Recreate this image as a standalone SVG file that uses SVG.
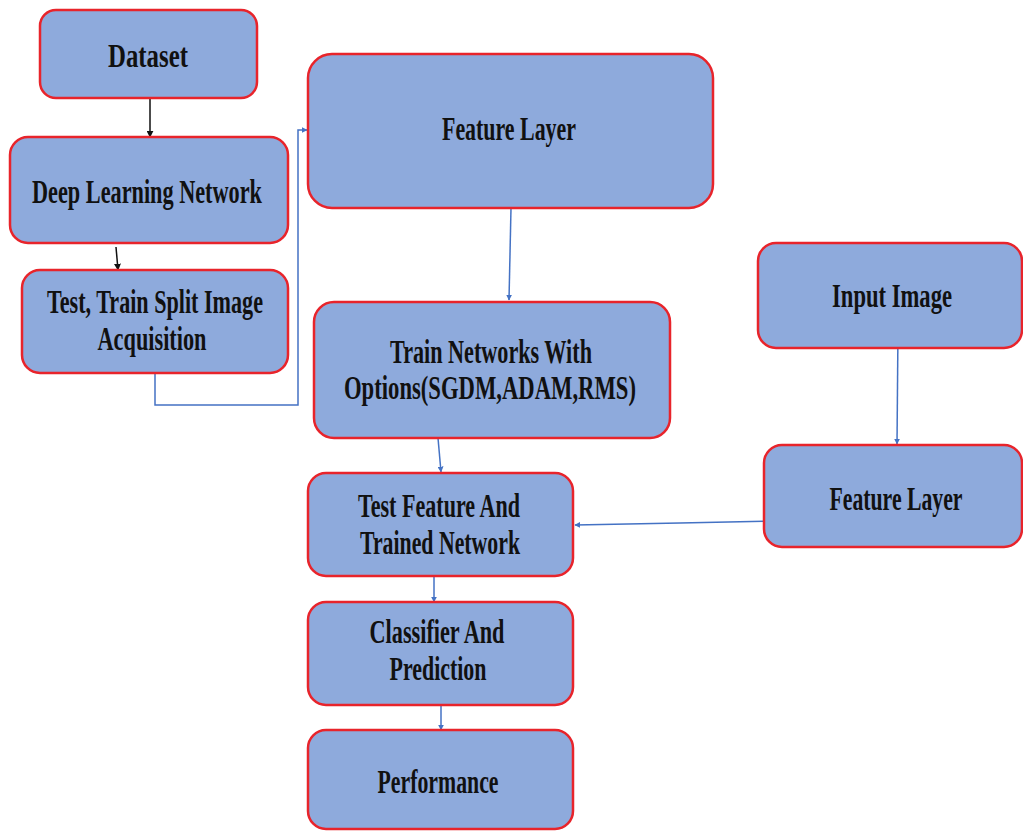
<svg xmlns="http://www.w3.org/2000/svg" width="1023" height="831" viewBox="0 0 1023 831">
<defs>
<style>
.box{fill:#8eaadc;stroke:#e8242b;stroke-width:2.5}
.t{font-family:"Liberation Serif","Times New Roman",serif;font-weight:bold;font-size:34px;fill:#111}
.cb{fill:none;stroke:#4472c4;stroke-width:1.5}
.ck{fill:none;stroke:#111;stroke-width:1.5}
</style>
<marker id="ab" viewBox="0 0 10 10" refX="9" refY="5" markerWidth="6" markerHeight="6" orient="auto" markerUnits="userSpaceOnUse"><path d="M0,0 L10,5 L0,10 z" fill="#4472c4"/></marker>
<marker id="ak" viewBox="0 0 10 10" refX="9" refY="5" markerWidth="7" markerHeight="7" orient="auto" markerUnits="userSpaceOnUse"><path d="M0,0 L10,5 L0,10 z" fill="#111"/></marker>
</defs>
<rect width="1023" height="831" fill="#fff"/>
<g id="connectors">
<line class="ck" x1="150" y1="98" x2="150" y2="137" marker-end="url(#ak)"/>
<line class="ck" x1="116" y1="247" x2="118" y2="270" marker-end="url(#ak)"/>
<polyline class="cb" points="155,373 155,405 298,405 298,130 307,130" marker-end="url(#ab)"/>
<line class="cb" x1="511" y1="208" x2="509" y2="300" marker-end="url(#ab)"/>
<line class="cb" x1="438" y1="438" x2="441" y2="472" marker-end="url(#ab)"/>
<line class="cb" x1="898" y1="328" x2="897" y2="444" marker-end="url(#ab)"/>
<polyline class="cb" points="770,521 680,523 575,525" marker-end="url(#ab)"/>
<line class="cb" x1="434" y1="576" x2="434" y2="602" marker-end="url(#ab)"/>
<line class="cb" x1="441" y1="705" x2="441" y2="730" marker-end="url(#ab)"/>
</g>
<g id="dataset"><rect class="box" x="40" y="10" width="217" height="88" rx="16"/><text class="t" x="148" y="67" text-anchor="middle" textLength="80" lengthAdjust="spacingAndGlyphs">Dataset</text></g>
<g id="dln"><rect class="box" x="10" y="137" width="278" height="106" rx="18"/><text class="t" x="147" y="203" text-anchor="middle" textLength="230" lengthAdjust="spacingAndGlyphs">Deep Learning Network</text></g>
<g id="split"><rect class="box" x="22" y="270" width="266" height="103" rx="18"/><text class="t" x="155" y="313" text-anchor="middle" textLength="216" lengthAdjust="spacingAndGlyphs">Test, Train Split Image</text><text class="t" x="152" y="350" text-anchor="middle" textLength="109" lengthAdjust="spacingAndGlyphs">Acquisition</text></g>
<g id="feature1"><rect class="box" x="308" y="54" width="405" height="154" rx="24"/><text class="t" x="509" y="140" text-anchor="middle" textLength="134" lengthAdjust="spacingAndGlyphs">Feature Layer</text></g>
<g id="train"><rect class="box" x="314" y="302" width="356" height="136" rx="20"/><text class="t" x="491" y="363" text-anchor="middle" textLength="202" lengthAdjust="spacingAndGlyphs">Train Networks With</text><text class="t" x="490" y="399" text-anchor="middle" textLength="292" lengthAdjust="spacingAndGlyphs">Options(SGDM,ADAM,RMS)</text></g>
<g id="input"><rect class="box" x="758" y="243" width="264" height="105" rx="18"/><text class="t" x="892" y="307" text-anchor="middle" textLength="120" lengthAdjust="spacingAndGlyphs">Input Image</text></g>
<g id="feature2"><rect class="box" x="764" y="445" width="258" height="102" rx="18"/><text class="t" x="896" y="510" text-anchor="middle" textLength="133" lengthAdjust="spacingAndGlyphs">Feature Layer</text></g>
<g id="testfeature"><rect class="box" x="308" y="473" width="265" height="103" rx="18"/><text class="t" x="439" y="517" text-anchor="middle" textLength="162" lengthAdjust="spacingAndGlyphs">Test Feature And</text><text class="t" x="440" y="554" text-anchor="middle" textLength="160" lengthAdjust="spacingAndGlyphs">Trained Network</text></g>
<g id="classifier"><rect class="box" x="308" y="602" width="265" height="103" rx="18"/><text class="t" x="437" y="643" text-anchor="middle" textLength="135" lengthAdjust="spacingAndGlyphs">Classifier And</text><text class="t" x="438" y="680" text-anchor="middle" textLength="97" lengthAdjust="spacingAndGlyphs">Prediction</text></g>
<g id="performance"><rect class="box" x="308" y="730" width="265" height="99" rx="18"/><text class="t" x="438" y="793" text-anchor="middle" textLength="121" lengthAdjust="spacingAndGlyphs">Performance</text></g>
</svg>
